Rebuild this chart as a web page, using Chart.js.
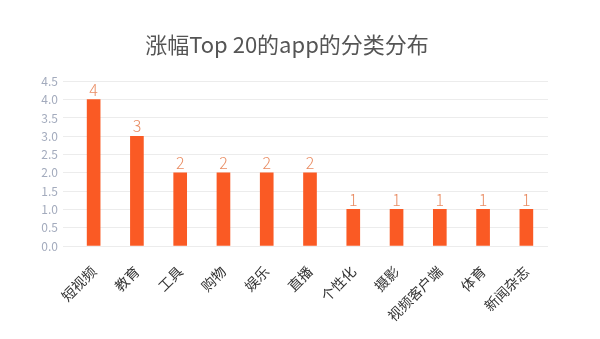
<!DOCTYPE html>
<html>
<head>
<meta charset="utf-8">
<script src="https://cdn.jsdelivr.net/npm/chart.js@4"></script>
<style>
  html, body { margin: 0; padding: 0; background: #fff; }
  #wrap { width: 600px; height: 339px; }
</style>
</head>
<body>
<div id="wrap"><canvas id="grafico"></canvas></div>
<script>
const categorias = ['短视频', '教育', '工具', '购物', '娱乐', '直播', '个性化', '摄影', '视频客户端', '体育', '新闻杂志'];
const cantidades = [4, 3, 2, 2, 2, 2, 1, 1, 1, 1, 1];
const ticksY = [0, 0.5, 1, 1.5, 2, 2.5, 3, 3.5, 4, 4.5];

const fuente = '"Noto Sans CJK SC", "Noto Sans", sans-serif';

// numeros encima de cada barra
const etiquetas = {
  id: 'etiquetas',
  afterDatasetsDraw(chart) {
    const { ctx } = chart;
    const meta = chart.getDatasetMeta(0);
    ctx.save();
    ctx.fillStyle = '#e98c62';
    ctx.font = '300 16px ' + fuente;
    ctx.textAlign = 'center';
    ctx.textBaseline = 'bottom';
    meta.data.forEach((bar, i) => {
      ctx.fillText(cantidades[i], bar.x, bar.y - 2);
    });
    ctx.restore();
  }
};

new Chart(document.getElementById('grafico').getContext('2d'), {
  type: 'bar',
  data: {
    labels: categorias,
    datasets: [{
      data: cantidades,
      backgroundColor: '#fa5a24',
      barThickness: 13
    }]
  },
  options: {
    responsive: true,
    maintainAspectRatio: false,
    animation: false,
    layout: { padding: { left: 26, right: 52, top: 0, bottom: 0 } },
    plugins: {
      legend: { display: false },
      tooltip: { enabled: false },
      title: {
        display: true,
        text: '涨幅Top 20的app的分类分布',
        color: '#555',
        font: { family: fuente, size: 22, weight: 'normal' },
        padding: { top: 31, bottom: 24 }
      }
    },
    scales: {
      x: {
        grid: { display: false },
        border: { display: false },
        ticks: {
          color: '#333',
          font: { family: fuente, size: 14 },
          minRotation: 45,
          maxRotation: 45,
          padding: 9
        },
        afterFit(scale) { scale.height = 93; }
      },
      y: {
        min: 0,
        max: 4.5,
        border: { display: false },
        grid: { color: '#ececec', tickLength: 9 },
        afterBuildTicks(scale) { scale.ticks = ticksY.map(v => ({ value: v })); },
        ticks: {
          color: '#a3abbd',
          font: { family: fuente, size: 12 },
          padding: 5,
          callback: v => v.toFixed(1)
        },
        afterFit(scale) { scale.width = 46; }
      }
    }
  },
  plugins: [etiquetas]
});
</script>
</body>
</html>
